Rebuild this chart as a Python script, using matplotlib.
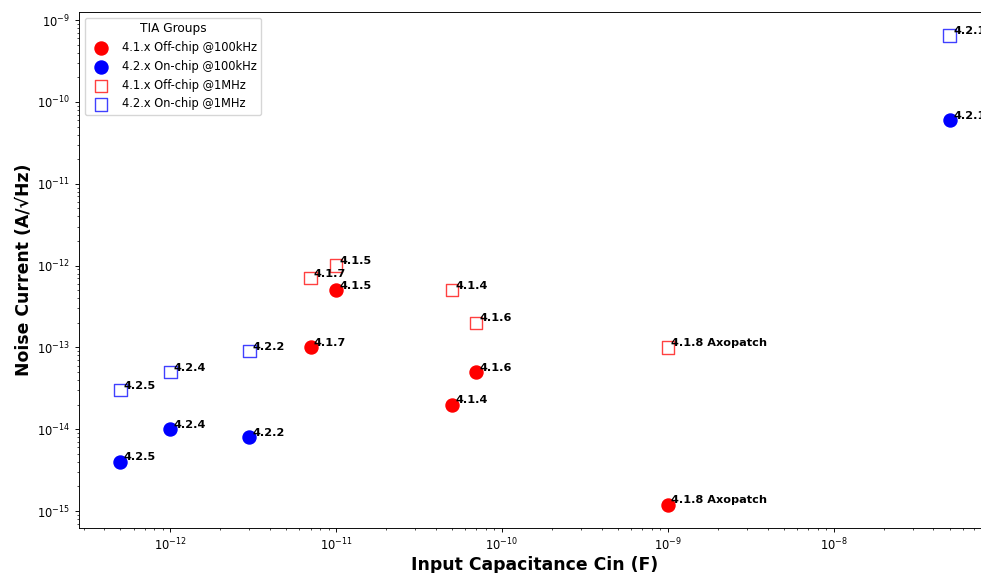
import matplotlib

matplotlib.use("Agg")

import matplotlib.pyplot as plt

# ---------------------------------------------------------------------------
# Data: input capacitance (F) vs noise current (A/sqrt(Hz))
# ---------------------------------------------------------------------------
off_labels = ["4.1.4", "4.1.5", "4.1.6", "4.1.7", "4.1.8 Axopatch"]
off_cin = [5e-11, 1e-11, 7e-11, 7e-12, 1e-9]
off_100k = [2e-14, 5e-13, 5e-14, 1e-13, 1.2e-15]
off_1M = [5e-13, 1e-12, 2e-13, 7e-13, 1e-13]

on_labels = ["4.2.1", "4.2.2", "4.2.4", "4.2.5"]
on_cin = [5e-8, 3e-12, 1e-12, 5e-13]
on_100k = [6e-11, 8e-15, 1e-14, 4e-15]
on_1M = [6.5e-10, 9e-14, 5e-14, 3e-14]

SCALE = 0.83
plt.rcParams.update({
    "font.size": 10 * SCALE,
    "axes.linewidth": 0.8 * SCALE,
    "xtick.major.size": 3.5 * SCALE,
    "ytick.major.size": 3.5 * SCALE,
    "xtick.minor.size": 2 * SCALE,
    "ytick.minor.size": 2 * SCALE,
    "xtick.major.width": 0.8 * SCALE,
    "ytick.major.width": 0.8 * SCALE,
    "xtick.minor.width": 0.6 * SCALE,
    "ytick.minor.width": 0.6 * SCALE,
})

W, H = 981, 573
fig = plt.figure(figsize=(W / 100, H / 100), dpi=100)
ax = fig.add_axes([79 / W, (H - 528) / H, (991 - 79) / W, (528 - 12) / H])

ax.scatter(off_cin, off_100k, s=88, color="red", label="4.1.x Off-chip @100kHz")
ax.scatter(on_cin, on_100k, s=88, color="blue", label="4.2.x On-chip @100kHz")
ax.scatter(off_cin, off_1M, s=78, marker="s", facecolors="none", edgecolors="red",
           linewidths=1.0, alpha=0.75, label="4.1.x Off-chip @1MHz")
ax.scatter(on_cin, on_1M, s=78, marker="s", facecolors="none", edgecolors="blue",
           linewidths=1.0, alpha=0.75, label="4.2.x On-chip @1MHz")

ax.set_xscale("log")
ax.set_yscale("log")

# point labels
for xs, ys, labels in [(off_cin, off_100k, off_labels), (off_cin, off_1M, off_labels),
                       (on_cin, on_100k, on_labels), (on_cin, on_1M, on_labels)]:
    for x, y, lab in zip(xs, ys, labels):
        ax.annotate(lab, (x, y), xytext=(2.5, 1), textcoords="offset points",
                    fontsize=8.1, fontweight="bold")

ax.set_xlabel("Input Capacitance Cin (F)", fontsize=12.4, fontweight="bold", labelpad=1.5)
ax.set_ylabel("Noise Current (A/√Hz)", fontsize=12.4, fontweight="bold", labelpad=3)

ax.legend(title="TIA Groups", loc="upper left", fontsize=10 * SCALE,
          title_fontsize=10 * SCALE * 1.05)

fig.savefig("out.png", dpi=100)
